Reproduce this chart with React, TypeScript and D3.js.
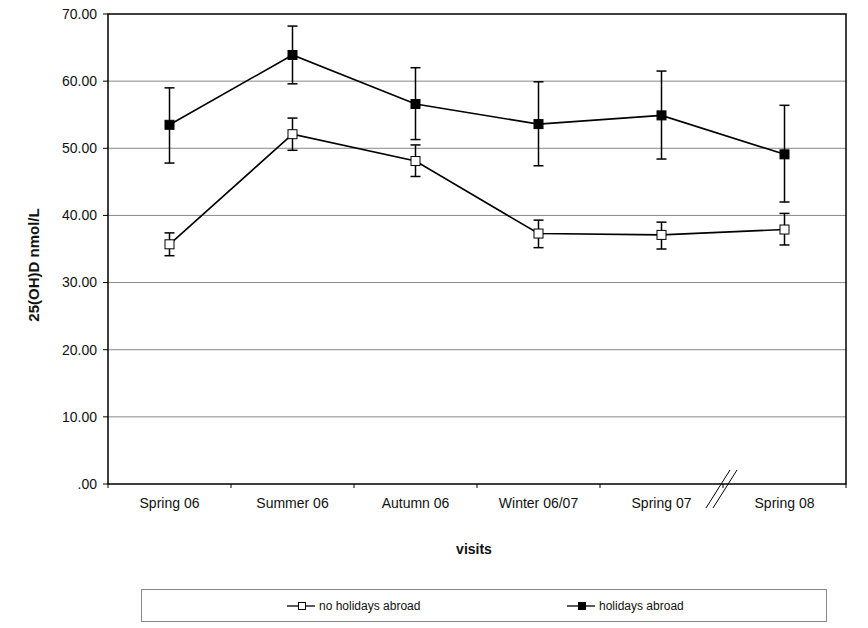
import React from 'react';
import * as d3 from 'd3';

const visits = ['Spring 06', 'Summer 06', 'Autumn 06', 'Winter 06/07', 'Spring 07', 'Spring 08'];

const noHolidays = [35.7, 52.1, 48.1, 37.3, 37.1, 37.9];
const noHolidaysLow = [34.0, 49.7, 45.8, 35.2, 35.0, 35.6];
const noHolidaysHigh = [37.4, 54.5, 50.5, 39.3, 39.0, 40.3];

const holidays = [53.5, 63.9, 56.6, 53.6, 54.9, 49.1];
const holidaysLow = [47.8, 59.6, 51.3, 47.4, 48.4, 42.0];
const holidaysHigh = [59.0, 68.2, 62.0, 59.9, 61.5, 56.4];

const yTicks = [0, 10, 20, 30, 40, 50, 60, 70];

const width = 868;
const height = 628;
const margin = { top: 14, right: 22, bottom: 144, left: 108 };
const innerWidth = width - margin.left - margin.right;
const innerHeight = height - margin.top - margin.bottom;

const font = '"Liberation Sans", Arial, sans-serif';

const fmt = (v: number) => (v === 0 ? '.00' : v.toFixed(2));

interface SeriesProps {
  values: number[];
  low: number[];
  high: number[];
  filled: boolean;
  x: (v: string) => number;
  y: d3.ScaleLinear<number, number>;
}

const Series: React.FC<SeriesProps> = ({ values, low, high, filled, x, y }) => {
  const line = d3.line<number>()
    .x((_, i) => x(visits[i]))
    .y(d => y(d));
  return (
    <g>
      {values.map((_, i) => {
        const cx = x(visits[i]);
        return (
          <g key={'e' + i} stroke="#000" strokeWidth={1.5}>
            <line x1={cx} x2={cx} y1={y(low[i])} y2={y(high[i])} />
            <line x1={cx - 5} x2={cx + 5} y1={y(low[i])} y2={y(low[i])} />
            <line x1={cx - 5} x2={cx + 5} y1={y(high[i])} y2={y(high[i])} />
          </g>
        );
      })}
      <path d={line(values) || ''} fill="none" stroke="#000" strokeWidth={1.6} />
      {values.map((d, i) => (
        <rect
          key={'m' + i}
          x={x(visits[i]) - 4.5}
          y={y(d) - 4.5}
          width={9}
          height={9}
          fill={filled ? '#000' : '#fff'}
          stroke="#000"
          strokeWidth={1}
        />
      ))}
    </g>
  );
};

const App: React.FC = () => {
  const xBand = d3.scaleBand<string>().domain(visits).range([0, innerWidth]);
  const x = (v: string) => (xBand(v) || 0) + xBand.bandwidth() / 2;
  const y = d3.scaleLinear().domain([0, 70]).range([innerHeight, 0]);

  const breakX = xBand('Spring 08') || 0;
  const bandEdges = visits.map(v => xBand(v) || 0).concat([innerWidth]);

  return (
    <svg
      width={width}
      height={height}
      style={{ position: 'absolute', left: 0, top: 0, background: '#fff' }}
      fontFamily={font}
    >
      <g transform={`translate(${margin.left},${margin.top})`}>
        {yTicks.filter(t => t > 0 && t < 70).map(t => (
          <line key={t} x1={0} x2={innerWidth} y1={y(t)} y2={y(t)} stroke="#888" strokeWidth={1} />
        ))}
        <rect x={0} y={0} width={innerWidth} height={innerHeight} fill="none" stroke="#000" strokeWidth={1.5} />

        {yTicks.map(t => (
          <g key={'yt' + t}>
            <line x1={-5} x2={0} y1={y(t)} y2={y(t)} stroke="#000" strokeWidth={1} />
            <text x={-11} y={y(t)} dy="0.35em" textAnchor="end" fontSize={14} fill="#111">
              {fmt(t)}
            </text>
          </g>
        ))}

        {bandEdges.map((e, i) => (
          <line key={'xt' + i} x1={e} x2={e} y1={innerHeight} y2={innerHeight + 4} stroke="#000" strokeWidth={1} />
        ))}
        {visits.map(v => (
          <text key={v} x={x(v)} y={innerHeight + 24} textAnchor="middle" fontSize={14} fill="#111">
            {v}
          </text>
        ))}

        <g stroke="#000" strokeWidth={1}>
          <line x1={breakX - 17} y1={innerHeight + 24} x2={breakX + 7} y2={innerHeight - 14} />
          <line x1={breakX - 10} y1={innerHeight + 24} x2={breakX + 14} y2={innerHeight - 14} />
        </g>

        <Series values={noHolidays} low={noHolidaysLow} high={noHolidaysHigh} filled={false} x={x} y={y} />
        <Series values={holidays} low={holidaysLow} high={holidaysHigh} filled={true} x={x} y={y} />

        <text x={innerWidth / 2 - 3} y={innerHeight + 70} textAnchor="middle" fontSize={14} fontWeight="bold" fill="#111">
          visits
        </text>
      </g>

      <text
        transform={`translate(39,265) rotate(-90)`}
        textAnchor="middle"
        fontSize={15}
        fontWeight="bold"
        fill="#111"
      >
        25(OH)D nmol/L
      </text>

      <g>
        <rect x={141.5} y={589.5} width={685} height={32} fill="#fff" stroke="#888" strokeWidth={1} />
        <g transform="translate(287,606)">
          <line x1={0} x2={28} y1={0} y2={0} stroke="#000" strokeWidth={1.3} />
          <rect x={11.5} y={-3.5} width={7} height={7} fill="#fff" stroke="#000" strokeWidth={1} />
          <text x={32} y={0} dy="0.36em" fontSize={12} fill="#111">no holidays abroad</text>
        </g>
        <g transform="translate(567,606)">
          <line x1={0} x2={28} y1={0} y2={0} stroke="#000" strokeWidth={1.3} />
          <rect x={11.5} y={-3.5} width={7} height={7} fill="#000" stroke="#000" strokeWidth={1} />
          <text x={32} y={0} dy="0.36em" fontSize={12} fill="#111">holidays abroad</text>
        </g>
      </g>
    </svg>
  );
};

export default App;
